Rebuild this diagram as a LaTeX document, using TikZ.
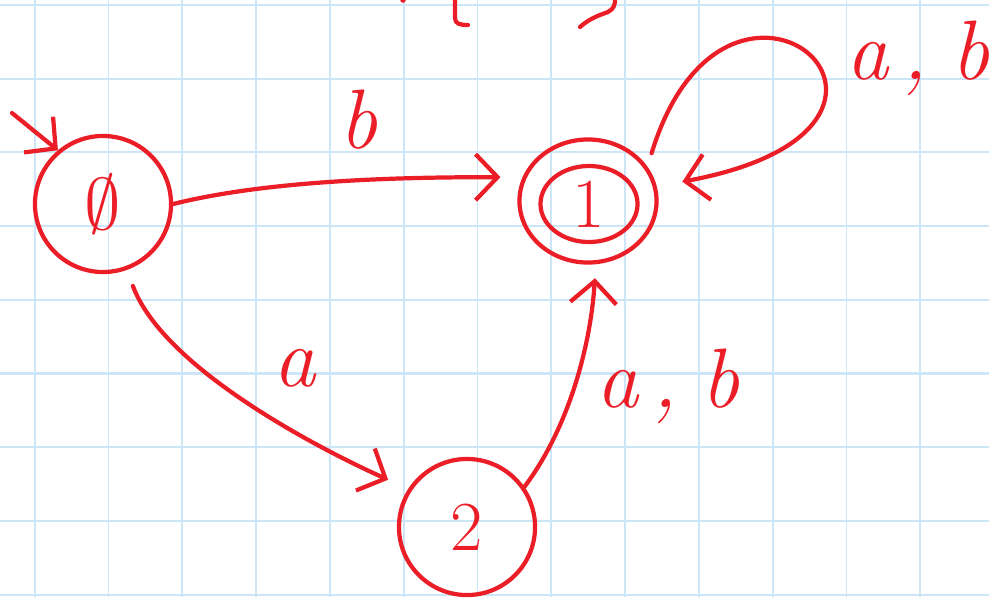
\documentclass[tikz,border=0pt]{standalone}
\usepackage{tikz}
\usepackage{xcolor}
\usetikzlibrary{arrows.meta,shapes.geometric}
\definecolor{inkred}{RGB}{235,30,40}
\definecolor{gridblue}{RGB}{204,230,248}

\begin{document}
\begin{tikzpicture}[x=0.01cm, y=-0.01cm,
  ink/.style={draw=inkred, line width=1.2pt, line cap=round, line join=round},
  arr/.style={ink, -{Straight Barb[length=0.22cm, width=0.46cm]}},
  state/.style={circle, ink, minimum size=1.36cm, inner sep=0pt, text=inkred, font=\fontsize{20}{24}\selectfont},
  accstate/.style={ellipse, ink, minimum width=1.37cm, minimum height=1.23cm, inner sep=0pt},
  accinner/.style={ellipse, ink, minimum width=0.97cm, minimum height=0.76cm, inner sep=0pt, text=inkred, font=\fontsize{20}{24}\selectfont},
  lbl/.style={text=inkred, inner sep=0pt, font=\fontsize{24}{28}\selectfont\itshape}]

% Background
\useasboundingbox (0,0) rectangle (989,597);
\fill[white] (0,0) rectangle (989,597);

% Grid paper
\foreach \i in {0,...,12} {
    \draw[gridblue, line width=0.5pt] ({34.7+73.8*\i},0) -- ({34.7+73.8*\i},597);
}
\foreach \j in {0,...,8} {
    \draw[gridblue, line width=0.6pt] (0,{5+73.7*\j}) -- (989,{5+73.7*\j});
}

% Cut-off writing at the top
\fill[inkred] (403,0) circle (0.8pt);
\draw[ink] (455,0) -- (455,18) .. controls (455,24) and (460,25) .. (468,25);
\draw[ink] (580,27) .. controls (590,18) and (600,15) .. (608,12) .. controls (614,9) and (615,4) .. (615,0);

% States
\node[state] (s0) at (103,204) {$\emptyset$};
\node[accstate] (s1) at (588,201) {};
\node[accinner] (s1in) at (589,204) {1};
\node[state] (s2) at (467,527) {2};

% Start arrow
\coordinate (start) at (12,113);
\draw[arr] (start) -- (s0.130);

% Transitions
\draw[arr, shorten >=0.22cm] (s0.east) .. controls +(100,-25) and +(-110,0) .. (s1.160);
\draw[arr, shorten <=0.17cm, shorten >=0.22cm] (s0.-70) .. controls +(35,95) and +(-100,-45) .. (s2.147);
\draw[arr, shorten >=0.14cm] (s2.35) .. controls +(45,-60) and +(-5,80) .. (s1.-83);
\draw[arr, shorten <=0.14cm, shorten >=0.26cm] (s1.30) .. controls +(80,-262) and +(325,-60) .. (s1.12);

% Labels
\node[lbl] (lb) at (358,120) {b};
\node[lbl] (la) at (295,368) {a};
\node[lbl] (lab) at (668,386) {a\,,\;b};
\node[lbl] (lloop) at (918,58) {a\,,\;b};

\end{tikzpicture}
\end{document}
